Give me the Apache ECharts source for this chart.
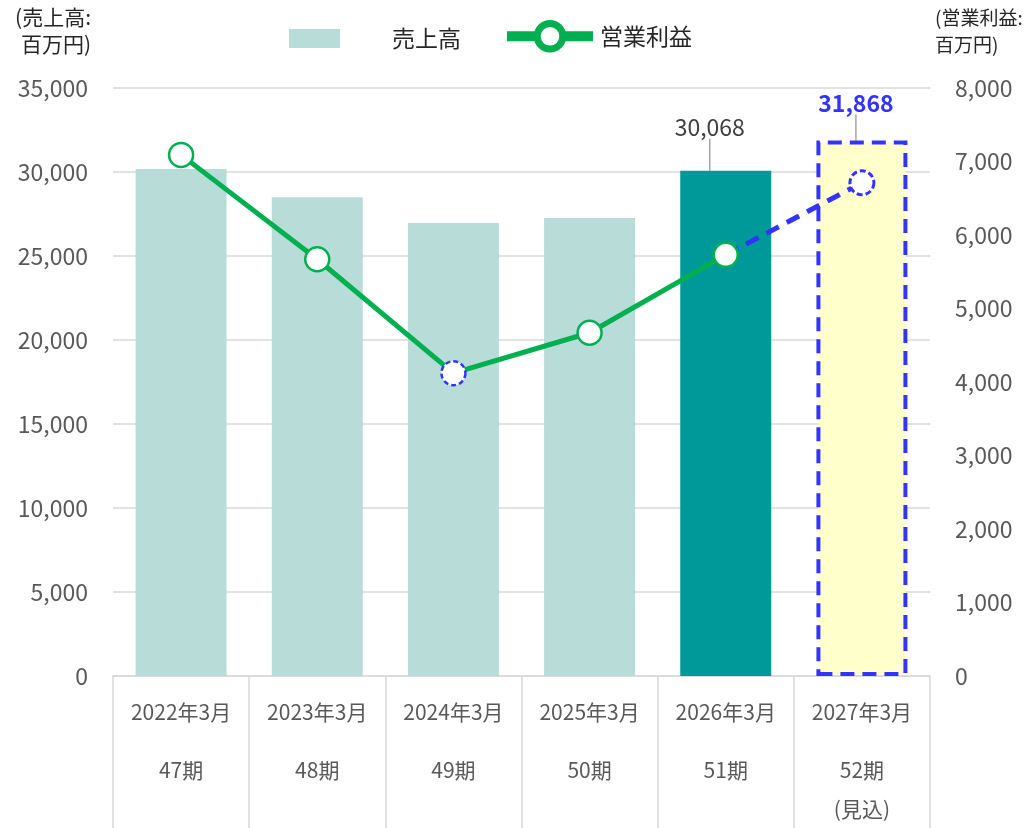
<!DOCTYPE html>
<html>
<head>
<meta charset="utf-8">
<script src="https://cdn.jsdelivr.net/npm/echarts@6/dist/echarts.min.js"></script>
<style>
html,body{margin:0;padding:0;background:#fff;}
#main{width:1029px;height:828px;}
</style>
</head>
<body>
<div id="main"></div>
<script>
var years = ['2022年3月', '2023年3月', '2024年3月', '2025年3月', '2026年3月', '2027年3月'];
var periods = ['47期', '48期', '49期', '50期', '51期', '52期'];
var notes = ['', '', '', '', '', '(見込)'];
var sales = [30180, 28500, 26960, 27260, 30068, 31868]; //売上高
var profit = [7090, 5670, 4120, 4670, 5730, 6710]; //営業利益
var salesTicks = [0, 35000, 5000];
var profitTicks = [0, 8000, 1000];

var font = '"Noto Sans CJK JP", "Noto Sans", sans-serif';
var chart = echarts.init(document.getElementById('main'));

//棒グラフ
var barData = [];
for(var i = 0; i < sales.length; i++) {
	var item = { value: sales[i] };
	if(i == 4) {
		item.itemStyle = { color: '#009999' };
		item.label = { show: true, color: '#404040', fontSize: 23 };
	} else if(i == 5) {
		item.itemStyle = { color: '#FFFFCC', borderColor: '#3333FF', borderWidth: 4, borderType: [14, 8] };
		item.label = { show: true, color: '#3333FF', fontSize: 23, fontWeight: 'bold' };
	}
	barData.push(item);
}

//折れ線
var solidData = [], dashData = [];
for(var i = 0; i < profit.length; i++) {
	var p = { value: profit[i] };
	if(i == 2) {
		p.itemStyle = { color: '#fff', borderColor: '#3333FF', borderType: [5, 3], borderWidth: 2.5 };
	}
	solidData.push(i <= 4 ? p : null);
	if(i >= 4) {
		var d = { value: profit[i] };
		if(i == 5) {
			d.itemStyle = { color: '#fff', borderColor: '#3333FF', borderType: [6, 3], borderWidth: 3 };
		} else {
			d.itemStyle = { color: '#fff', borderColor: '#00B050', borderWidth: 2.5 };
		}
		dashData.push(d);
	} else {
		dashData.push(null);
	}
}

chart.setOption({
	animation: false,
	textStyle: { fontFamily: font },
	legend: [{
		data: [{ name: '売上高', icon: 'rect' }],
		left: 284, top: 22,
		itemWidth: 51, itemHeight: 19,
		textStyle: { fontSize: 23, color: '#262626', padding: [0, 0, 0, 47] }
	}, {
		data: [{
			name: '営業利益',
			itemStyle: { color: '#fff', borderColor: '#00B050', borderWidth: 7 },
			lineStyle: { color: '#00B050', width: 10 }
		}],
		left: 497, top: 15,
		itemWidth: 86, itemHeight: 32,
		textStyle: { fontSize: 23, color: '#262626', padding: [0, 0, 0, 2] }
	}],
	grid: { left: 113, right: 99, top: 88, bottom: 152, containLabel: false },
	xAxis: {
		type: 'category',
		data: years,
		axisLine: { lineStyle: { color: '#d9d9d9', width: 1.5 } },
		axisTick: { show: true, length: 152, lineStyle: { color: '#d9d9d9', width: 1.5 } },
		axisLabel: {
			margin: 6,
			formatter: function(v, idx) {
				var s = '{a|' + v + '}\n{b|' + periods[idx] + '}';
				if(notes[idx]) s += '\n{c|' + notes[idx] + '}';
				return s;
			},
			rich: {
				a: { fontSize: 21, color: '#595959', lineHeight: 60, fontFamily: font },
				b: { fontSize: 21, color: '#595959', lineHeight: 56, fontFamily: font },
				c: { fontSize: 21, color: '#595959', lineHeight: 22, fontFamily: font }
			}
		}
	},
	yAxis: [{
		type: 'value',
		min: salesTicks[0], max: salesTicks[1], interval: salesTicks[2],
		name: '(売上高:\n百万円)',
		nameGap: 30,
		nameTextStyle: { fontSize: 21, color: '#262626', align: 'right', lineHeight: 27, padding: [0, 22, 0, 0] },
		axisLine: { show: false },
		axisTick: { show: false },
		axisLabel: { fontSize: 23, color: '#595959', margin: 25, formatter: function(v) { return v.toLocaleString('en-US'); } },
		splitLine: { lineStyle: { color: '#d9d9d9', width: 1.5 } }
	}, {
		type: 'value',
		min: profitTicks[0], max: profitTicks[1], interval: profitTicks[2],
		name: '(営業利益:\n百万円)',
		nameGap: 30,
		nameTextStyle: { fontSize: 19, color: '#262626', align: 'left', lineHeight: 27, padding: [0, 0, 0, 5] },
		axisLine: { show: false },
		axisTick: { show: false },
		axisLabel: { fontSize: 23, color: '#595959', margin: 25, formatter: function(v) { return v.toLocaleString('en-US'); } },
		splitLine: { show: false }
	}],
	series: [{
		name: '売上高',
		type: 'bar',
		data: barData,
		barWidth: 91,
		itemStyle: { color: '#B8DDD8' },
		label: {
			show: false, position: 'top', distance: 4,
			formatter: function(p) { return p.value.toLocaleString('en-US'); }
		},
		labelLine: { show: true, lineStyle: { color: '#a6a6a6', width: 1.5 } },
		labelLayout: function(params) {
			if(params.dataIndex == 4) return { dx: -16, dy: -28 };
			if(params.dataIndex == 5) return { dx: -6, dy: -22 };
			return {};
		},
		z: 1
	}, {
		name: '営業利益',
		type: 'line',
		yAxisIndex: 1,
		data: solidData,
		symbol: 'circle',
		symbolSize: 24,
		showAllSymbol: true,
		lineStyle: { color: '#00B050', width: 5 },
		itemStyle: { color: '#fff', borderColor: '#00B050', borderWidth: 2.5 },
		z: 3
	}, {
		name: '営業利益予想',
		type: 'line',
		yAxisIndex: 1,
		data: dashData,
		symbol: 'circle',
		symbolSize: 24,
		lineStyle: { color: '#3333FF', width: 5, type: [14, 9] },
		itemStyle: { color: '#fff', borderColor: '#3333FF', borderWidth: 3 },
		z: 4
	}]
});
</script>
</body>
</html>
